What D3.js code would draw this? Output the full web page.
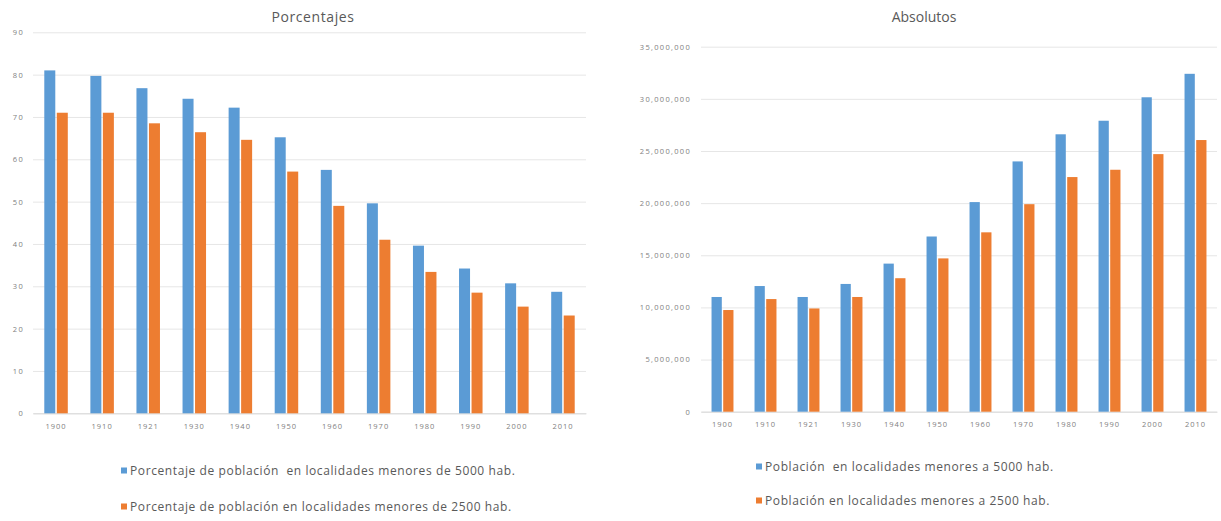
<!DOCTYPE html>
<html>
<head>
<meta charset="utf-8">
<script src="https://cdn.jsdelivr.net/npm/d3@7"></script>
<style>
  body { margin: 0; background: #fff; }
  text { font-family: "Open Sans", Lato, sans-serif; }
</style>
</head>
<body>
<div id="chart"></div>
<script>
// years on x, two series per chart
var years = ["1900", "1910", "1921", "1930", "1940", "1950", "1960", "1970", "1980", "1990", "2000", "2010"]

// porcentajes
var pct5000 = [81.0, 79.7, 76.8, 74.3, 72.2, 65.2, 57.5, 49.6, 39.6, 34.2, 30.7, 28.7]
var pct2500 = [71.0, 71.0, 68.5, 66.4, 64.6, 57.1, 49.0, 41.0, 33.4, 28.5, 25.2, 23.1]
var pctTicks = [0, 10, 20, 30, 40, 50, 60, 70, 80, 90]

// absolutos
var abs5000 = [11000000, 12050000, 11000000, 12250000, 14200000, 16800000, 20100000, 24000000, 26600000, 27900000, 30150000, 32400000]
var abs2500 = [9750000, 10800000, 9900000, 11000000, 12800000, 14700000, 17200000, 19900000, 22500000, 23200000, 24700000, 26050000]
var absTicks = [0, 5000000, 10000000, 15000000, 20000000, 25000000, 30000000, 35000000]

var pctLegend = ["Porcentaje de población  en localidades menores de 5000 hab.", "Porcentaje de población en localidades menores de 2500 hab."]
var absLegend = ["Población  en localidades menores a 5000 hab.", "Población en localidades menores a 2500 hab."]

var colors = ["#5B9BD5", "#ED7D31"]

var svg = d3.select("#chart")
    .append("svg")
    .attr("width", 1221)
    .attr("height", 521)

function drawChart(opts) {
    var g = svg.append("g")

    var x0 = d3.scaleBand()
        .domain(years)
        .range([opts.left, opts.right])
        .paddingInner(0.49)
        .paddingOuter(0.245)
    var x1 = d3.scaleBand()
        .domain([0, 1])
        .range([0, x0.bandwidth()])
        .paddingInner(0.12)
    var y = d3.scaleLinear()
        .domain([0, opts.max])
        .range([opts.bottom, opts.top])

    // grid + labels
    var yAxis = g.append("g")
        .attr("transform", "translate(" + opts.left + ",0)")
        .call(d3.axisLeft(y)
            .tickValues(opts.ticks)
            .tickSize(-(opts.right - opts.left))
            .tickPadding(opts.tickPad)
            .tickFormat(opts.fmt))
    yAxis.select(".domain").remove()
    yAxis.selectAll(".tick line").attr("stroke", "#e6e6e6")
    yAxis.selectAll(".tick text")
        .attr("fill", "#808080")
        .style("font-family", "'Open Sans'")
        .style("font-size", "7.5px")
        .style("letter-spacing", "1.3px")

    var xAxis = g.append("g")
        .attr("transform", "translate(0," + opts.bottom + ")")
        .call(d3.axisBottom(x0).tickSize(0).tickPadding(10))
    xAxis.select(".domain").attr("stroke", "#d9d9d9")
    xAxis.selectAll(".tick text")
        .attr("fill", "#808080")
        .style("font-family", "'Open Sans'")
        .style("font-size", "7.5px")
        .style("letter-spacing", "1px")

    var rows = []
    for (var i = 0; i < years.length; i++) {
        rows.push({ year: years[i], s: 0, v: opts.a[i] })
        rows.push({ year: years[i], s: 1, v: opts.b[i] })
    }

    g.selectAll("rect.bar")
        .data(rows)
        .enter()
        .append("rect")
        .attr("class", "bar")
        .attr("x", function (d) { return x0(d.year) + x1(d.s) })
        .attr("y", function (d) { return y(d.v) })
        .attr("width", x1.bandwidth())
        .attr("height", function (d) { return opts.bottom - y(d.v) })
        .attr("fill", function (d) { return colors[d.s] })

    g.append("text")
        .attr("x", opts.titleX)
        .attr("y", 22)
        .attr("text-anchor", "middle")
        .attr("fill", "#595959")
        .style("font-size", "14px")
        .style("letter-spacing", opts.titleSpacing)
        .text(opts.title)

    var leg = g.selectAll("g.leg")
        .data(opts.legend)
        .enter()
        .append("g")
        .attr("class", "leg")
        .attr("transform", function (d, i) { return "translate(" + opts.legX + "," + (opts.legY + i * opts.legGap) + ")" })
    leg.append("rect")
        .attr("x", 0)
        .attr("y", -3.5)
        .attr("width", 6)
        .attr("height", 6)
        .attr("fill", function (d, i) { return colors[i] })
    leg.append("text")
        .attr("x", 9)
        .attr("y", 4)
        .attr("fill", "#595959")
        .style("font-size", "12px")
        .style("letter-spacing", "0.6px")
        .style("white-space", "pre")
        .text(function (d) { return d })
}

drawChart({
    left: 33, right: 586, top: 32.3, bottom: 413.3, max: 90,
    ticks: pctTicks, fmt: d3.format("d"), tickPad: 9,
    a: pct5000, b: pct2500,
    title: "Porcentajes", titleX: 313, titleSpacing: "0.6px",
    legend: pctLegend, legX: 121, legY: 471, legGap: 36
})

drawChart({
    left: 701, right: 1217, top: 46.7, bottom: 411.7, max: 35000000,
    ticks: absTicks, fmt: d3.format(","), tickPad: 10,
    a: abs5000, b: abs2500,
    title: "Absolutos", titleX: 924, titleSpacing: "0px",
    legend: absLegend, legX: 756, legY: 467, legGap: 34
})
</script>
</body>
</html>
